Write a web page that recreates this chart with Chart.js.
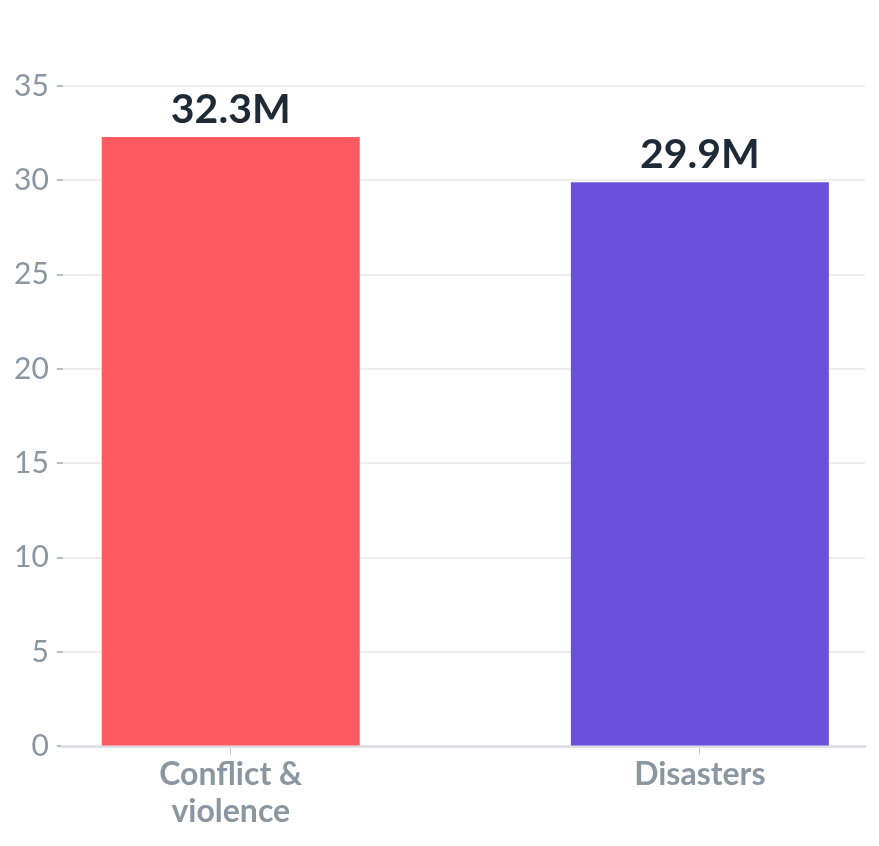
<!DOCTYPE html>
<html><head><meta charset="utf-8">
<script src="https://cdn.jsdelivr.net/npm/chart.js@4"></script>
<style>html,body{margin:0;padding:0;background:#fff}#wrap{width:879px;height:846px}</style>
</head><body><div id="wrap"><canvas id="c"></canvas></div>
<script>
const categories = [["Conflict &", "violence"], ["Disasters"]];
const values = [32.3, 29.9];
const valueLabels = ["32.3M", "29.9M"];
const barColors = ["#ff5a5f", "#6b50dc"];
const yTicks = [0, 5, 10, 15, 20, 25, 30, 35];

const FONT = "Lato, 'Open Sans', sans-serif";

const valueLabelPlugin = {
  id: 'valueLabels',
  afterDatasetsDraw(chart) {
    const ctx = chart.ctx;
    const meta = chart.getDatasetMeta(0);
    ctx.save();
    ctx.font = "bold 41px " + FONT;
    ctx.fillStyle = "#1e2b37";
    ctx.textAlign = "center";
    ctx.textBaseline = "alphabetic";
    meta.data.forEach((bar, i) => {
      ctx.fillText(valueLabels[i], bar.x, bar.y - 14);
    });
    ctx.restore();
  }
};

new Chart(document.getElementById('c'), {
  type: 'bar',
  data: {
    datasets: [{
      data: values.map((v, i) => ({x: i, y: v})),
      backgroundColor: barColors,
      borderWidth: 0,
      barPercentage: 1,
      categoryPercentage: 0.55
    }]
  },
  options: {
    responsive: true,
    maintainAspectRatio: false,
    animation: false,
    layout: {padding: {top: 86, right: 14, left: 6, bottom: 14}},
    plugins: {legend: {display: false}, tooltip: {enabled: false}},
    scales: {
      x: {
        type: 'linear',
        offset: false,
        min: -0.358,
        max: 1.352,
        afterBuildTicks(scale) { scale.ticks = categories.map((c, i) => ({value: i})); },
        ticks: {
          callback(v) { return categories[v]; },
          color: "#8a96a0",
          font: {family: FONT, size: 32, weight: 'bold', lineHeight: 1.15},
          padding: 2,
          maxRotation: 0,
          autoSkip: false
        },
        grid: {offset: false, drawOnChartArea: false, drawTicks: true, tickLength: 8, color: "#c0c6cc", tickWidth: 1},
        border: {display: true, color: "#dde1e5", width: 3}
      },
      y: {
        min: 0,
        max: 35,
        afterBuildTicks(scale) { scale.ticks = yTicks.map(v => ({value: v})); },
        ticks: {
          color: "#8a96a0",
          font: {family: FONT, size: 30},
          padding: 8
        },
        grid: {color: "#eceef0", lineWidth: 2, tickLength: 6, tickColor: "#a0a8b0", tickWidth: 1.5},
        border: {display: false}
      }
    }
  },
  plugins: [valueLabelPlugin]
});
</script></body></html>
